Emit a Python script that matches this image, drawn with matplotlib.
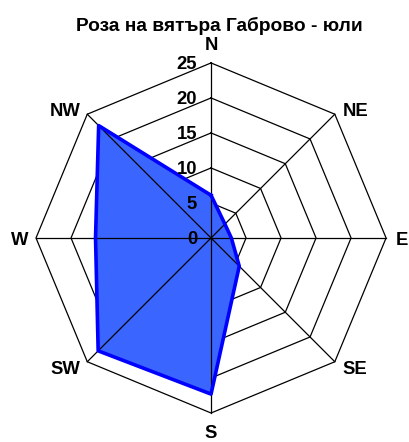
import numpy as np
import matplotlib.pyplot as plt
import matplotlib.transforms as mtransforms

plt.rcParams['font.family'] = ['Liberation Sans', 'DejaVu Sans']

# Wind rose data (frequency, %)
directions = ["N", "NE", "E", "SE", "S", "SW", "W", "NW"]
values = [6.1, 2.8, 2.9, 5.7, 22.3, 22.8, 16.5, 22.7]
rings = [0, 5, 10, 15, 20, 25]
title = "Роза на вятъра Габрово - юли"

fig = plt.figure(figsize=(4.09, 4.42), dpi=100)
ax = fig.add_axes([0.088, 0.0656, 0.856, 0.792], projection="polar")
ax.set_theta_zero_location("N")
ax.set_theta_direction(-1)
ax.set_ylim(0, rings[-1])
ax.axis("off")

theta = np.deg2rad(np.arange(len(directions)) * 360.0 / len(directions))
theta_closed = np.r_[theta, theta[0]]
vals_closed = np.r_[values, values[0]]

# octagon rings (hidden under the fill)
for r in rings[1:]:
    ax.plot(theta_closed, [r] * len(theta_closed), color="black", lw=0.9,
            zorder=0, clip_on=False)

# filled area
ax.fill(theta_closed, vals_closed, color="#3a66ff", zorder=1, clip_on=False)

# spokes drawn on top of the fill
for t in theta:
    ax.plot([t, t], [0, rings[-1]], color="black", lw=0.9, zorder=2,
            clip_on=False)

# outline
ax.plot(theta_closed, vals_closed, color="#0000ff", lw=2.6, zorder=3,
        clip_on=False)

# ring labels
offs = mtransforms.offset_copy(ax.transData, fig=fig, x=-14, y=-6.5,
                               units="dots")
for r in rings:
    ax.text(0, r, str(r), transform=offs, ha="right", va="baseline",
            fontsize=13.3, fontweight="bold", zorder=4)

# direction labels: (dx, dy, ha) in pixels relative to the outer vertex
label_pos = {
    "N": (0, 12.7, "center"),
    "NE": (8, -2, "left"),
    "E": (10, -7, "left"),
    "SE": (8, -12, "left"),
    "S": (0, -24.5, "center"),
    "SW": (-7, -12.5, "right"),
    "W": (-8, -7, "right"),
    "NW": (-7, -2, "right"),
}
for t, d in zip(theta, directions):
    dx, dy, ha = label_pos[d]
    tr = mtransforms.offset_copy(ax.transData, fig=fig, x=dx, y=dy,
                                 units="dots")
    ax.text(t, rings[-1], d, transform=tr, ha=ha, va="baseline",
            fontsize=13.3, fontweight="bold", clip_on=False)

fig.text(0.537, 1 - 31 / 442, title, ha="center", va="baseline",
         fontsize=13.8, fontweight="bold")

fig.savefig("out.png", dpi=100)
